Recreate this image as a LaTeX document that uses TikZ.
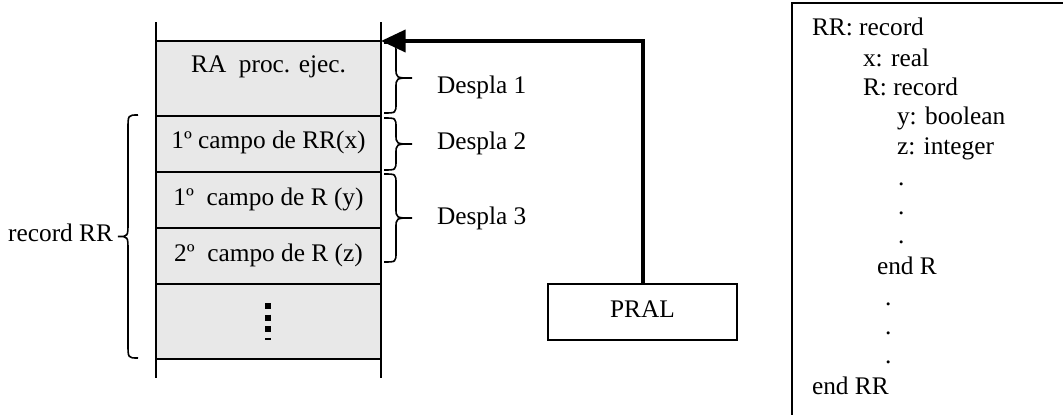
\documentclass[tikz,border=0pt]{standalone}
\usepackage{fontspec}
\setmainfont{Liberation Serif}
\usetikzlibrary{arrows.meta}
\definecolor{cellgray}{RGB}{232,232,232}
\newcommand{\drawbrace}[6]{% x, y0, y1, back offset, tip offset, curl length
  \draw[bracestyle] (#1,#2) .. controls ({#1+#4},#2) .. ({#1+#4},{#2+#6})
    -- ({#1+#4},{(#2+#3)/2-#6}) .. controls ({#1+#4},{(#2+#3)/2}) .. ({#1+#5},{(#2+#3)/2})
    .. controls ({#1+#4},{(#2+#3)/2}) .. ({#1+#4},{(#2+#3)/2+#6})
    -- ({#1+#4},{#3-#6}) .. controls ({#1+#4},#3) .. (#1,#3);}
\begin{document}
\begin{tikzpicture}[x=0.75pt,y=-0.75pt,
  txt/.style={font=\fontsize{19}{23}\selectfont, inner sep=0pt, outer sep=0pt},
  cell/.style={draw, line width=1.5pt, fill=cellgray, minimum width=168.75pt, inner sep=0pt, outer sep=0pt},
  tallcell/.style={cell, minimum height=56.25pt},
  shortcell/.style={cell, minimum height=42pt},
  bracestyle/.style={line width=1.2pt},
  stackline/.style={line width=1.5pt},
  pralbox/.style={draw, line width=1.5pt, minimum width=141.75pt, minimum height=42pt, inner sep=0pt, outer sep=0pt},
  link/.style={line width=3pt, -{Triangle[length=18.5pt,width=16.5pt]}}]
\useasboundingbox (0,0) rectangle (1063,414);

% stack cells
\node[tallcell]  (c0) at (268.5,78.5) {};
\node[shortcell] (c1) at (268.5,144) {};
\node[shortcell] (c2) at (268.5,200) {};
\node[shortcell] (c3) at (268.5,256) {};
\node[tallcell]  (c4) at (268.5,321.5) {};
\draw[stackline] ([yshift=14.25pt]c0.north west) -- ([yshift=-14.25pt]c4.south west);
\draw[stackline] ([yshift=14.25pt]c0.north east) -- ([yshift=-14.25pt]c4.south east);

% cell texts
\node[txt, anchor=base] (t0) at (268.5,72.3) {RA\ \ proc. ejec.};
\node[txt, anchor=base] (t1) at (268.5,148.3) {1º campo de RR(x)};
\node[txt, anchor=base] (t2) at (268.5,205) {1º\ \ campo de R (y)};
\node[txt, anchor=base] (t3) at (268.5,261.7) {2º\ \ campo de R (z)};
\draw[line width=4.2pt, dash pattern=on 4.5pt off 4.2pt] (268,303) -- (268,340);

% braces and labels
\drawbrace{384}{43}{113}{12}{28}{10}
\drawbrace{384}{118}{170}{12}{28}{10}
\drawbrace{384}{174}{262}{12}{28}{10}
\drawbrace{138}{115}{358}{-10}{-20}{14}
\node[txt, anchor=base west] (d1) at (437,93.3) {Despla 1};
\node[txt, anchor=base west] (d2) at (437,149) {Despla 2};
\node[txt, anchor=base west] (d3) at (437,224) {Despla 3};
\node[txt, anchor=base east] (rec) at (113,241.7) {record RR};

% PRAL and arrow
\node[pralbox] (pral) at (642.5,312) {};
\node[txt, anchor=base] (pralt) at (642.5,317.7) {PRAL};
\draw[link] (pral.north) |- (c0.north east);

% declaration box
\begin{scope}
\clip (0,0) rectangle (1063,414);
\draw[line width=1.5pt] (792,430) -- (792,3.3) -- (1080,3.3);
\end{scope}
\node[txt, anchor=base west] (l1) at (812,36) {RR: record};
\node[txt, anchor=base west] (l2) at (863,66) {x: real};
\node[txt, anchor=base west] (l3) at (863,95) {R: record};
\node[txt, anchor=base west] (l4) at (897,124) {y: boolean};
\node[txt, anchor=base west] (l5) at (897,154) {z: integer};
\node[txt, anchor=base west] (l6) at (898,185) {.};
\node[txt, anchor=base west] (l7) at (898,214) {.};
\node[txt, anchor=base west] (l8) at (898,243) {.};
\node[txt, anchor=base west] (l9) at (877,274) {end R};
\node[txt, anchor=base west] (l10) at (885,305) {.};
\node[txt, anchor=base west] (l11) at (885,334) {.};
\node[txt, anchor=base west] (l12) at (885,363) {.};
\node[txt, anchor=base west] (l13) at (812,394) {end RR};
\end{tikzpicture}
\end{document}
